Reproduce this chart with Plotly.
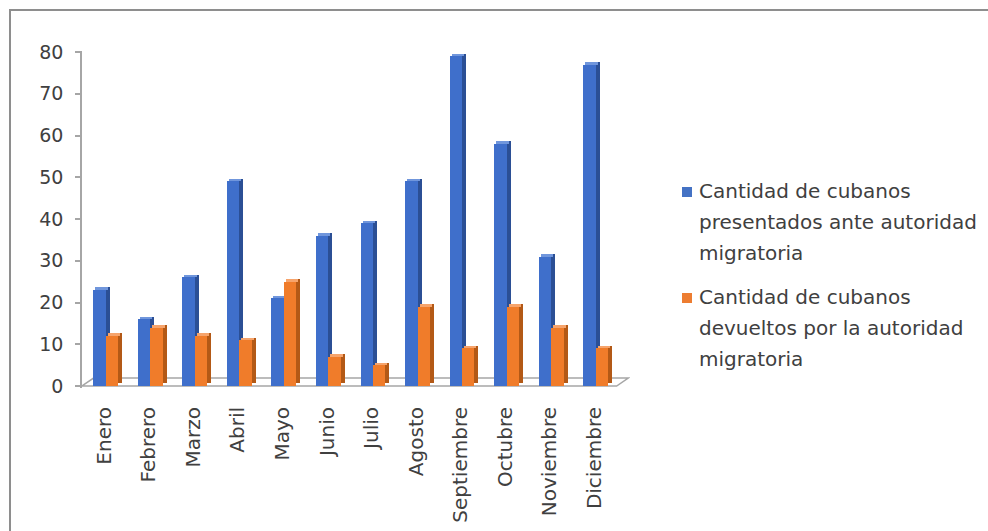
import plotly.graph_objects as go

# ---- data -------------------------------------------------------------
months = ["Enero", "Febrero", "Marzo", "Abril", "Mayo", "Junio", "Julio",
          "Agosto", "Septiembre", "Octubre", "Noviembre", "Diciembre"]
presentados = [23, 16, 26, 49, 21, 36, 39, 49, 79, 58, 31, 77]
devueltos = [12, 14, 12, 11, 25, 7, 5, 19, 9, 19, 14, 9]
y_ticks = [0, 10, 20, 30, 40, 50, 60, 70, 80]
series_names = [
    "Cantidad de cubanos presentados ante autoridad migratoria",
    "Cantidad de cubanos devueltos por la autoridad migratoria",
]
legend_lines = [
    ["Cantidad de cubanos", "presentados ante autoridad", "migratoria"],
    ["Cantidad de cubanos", "devueltos por la autoridad", "migratoria"],
]

# ---- page geometry (pixels) -------------------------------------------
FIG_W, FIG_H = 988, 531
M_L, M_R, M_T, M_B = 82, 358, 51, 143
PW = FIG_W - M_L - M_R
PH = FIG_H - M_T - M_B
X_RANGE = [-0.5, 11.8]
Y_RANGE = [-0.48, 80.24]

# pseudo-3D column geometry (data units)
BAR_W = 0.278
OFFSETS = [-0.247, 0.031]
DX, DY = 0.09, 0.6            # column depth
FLOOR_DX, FLOOR_DY = 0.26, 1.9  # floor depth

FONT = "DejaVu Sans"
TEXT_COLOR = "#404040"
AXIS_COLOR = "#A6A6A6"

PALETTES = [
    dict(front="#3F6FCB", side="#2B4F95", top="#7096DC", key="#4472C4"),
    dict(front="#F07C2A", side="#B35916", top="#F6A46C", key="#ED7D31"),
]

idx = list(range(len(months)))
fig = go.Figure()


def add_columns(values, offset, pal, name):
    """Draw one series as columns with a shaded side and top face."""
    n = len(values)
    fig.add_trace(go.Bar(x=idx, y=values, base=DY, offset=offset + DX,
                         width=BAR_W, marker=dict(color=pal["side"], line_width=0),
                         hoverinfo="skip", showlegend=False))
    fig.add_trace(go.Bar(x=idx, y=[DY] * n, base=values, offset=offset + DX / 2,
                         width=BAR_W, marker=dict(color=pal["top"], line_width=0),
                         hoverinfo="skip", showlegend=False))
    fig.add_trace(go.Bar(x=idx, y=values, base=0, offset=offset, width=BAR_W,
                         marker=dict(color=pal["front"], line_width=0),
                         name=name, showlegend=False))


for vals, off, pal, nm in zip([presentados, devueltos], OFFSETS, PALETTES, series_names):
    add_columns(vals, off, pal, nm)

# ---- floor of the 3D plot area ----------------------------------------
x_lo, x_hi = -0.5, len(months) - 0.5
floor_path = (f"M {x_lo},0 L {x_hi},0 L {x_hi + FLOOR_DX},{FLOOR_DY} "
              f"L {x_lo + FLOOR_DX},{FLOOR_DY} Z")
shapes = [dict(type="path", path=floor_path, xref="x", yref="y", layer="below",
               line=dict(color=AXIS_COLOR, width=1.5))]


def px_x(px):
    return (px - M_L) / PW


def px_y(py):
    return (FIG_H - M_B - py) / PH


# outer chart frame
shapes.append(dict(type="rect", xref="paper", yref="paper",
                   x0=px_x(10), x1=px_x(FIG_W + 20), y0=px_y(FIG_H + 20), y1=px_y(10),
                   line=dict(color="#8E8E8E", width=2), fillcolor="rgba(0,0,0,0)"))

# ---- legend (wrapped entries) -----------------------------------------
annotations = []
LEG_KEY_X, LEG_TEXT_X = 682, 697
LEG_FIRST = [191, 297]
LINE_STEP = 31
for k, (lines, pal) in enumerate(zip(legend_lines, PALETTES)):
    y0 = LEG_FIRST[k]
    shapes.append(dict(type="rect", xref="paper", yref="paper",
                       x0=px_x(LEG_KEY_X), x1=px_x(LEG_KEY_X + 10),
                       y0=px_y(y0 + 6), y1=px_y(y0 - 4),
                       fillcolor=pal["key"], line_width=0))
    for j, txt in enumerate(lines):
        annotations.append(dict(text=txt, xref="paper", yref="paper",
                                x=px_x(LEG_TEXT_X), y=px_y(y0 + j * LINE_STEP),
                                xanchor="left", yanchor="middle", showarrow=False,
                                font=dict(family=FONT, size=20, color=TEXT_COLOR)))

fig.update_layout(
    width=FIG_W, height=FIG_H,
    margin=dict(l=M_L, r=M_R, t=M_T, b=M_B, pad=0, autoexpand=False),
    paper_bgcolor="white", plot_bgcolor="white",
    barmode="overlay", bargap=0,
    showlegend=False,
    font=dict(family=FONT, size=19, color=TEXT_COLOR),
    shapes=shapes, annotations=annotations,
    xaxis=dict(range=X_RANGE, tickvals=idx, ticktext=months, tickangle=-90,
               ticks="", showgrid=False, zeroline=False, showline=False,
               ticklabelstandoff=14, automargin=False,
               tickfont=dict(family=FONT, size=20, color=TEXT_COLOR)),
    xaxis2=dict(range=X_RANGE, overlaying="x", anchor="y", side="bottom",
                tickvals=[i - 0.5 for i in range(len(months) + 1)],
                ticks="outside", ticklen=6, tickwidth=1.5, tickcolor=AXIS_COLOR,
                showticklabels=False, showgrid=False, zeroline=False, showline=False),
    yaxis=dict(range=Y_RANGE, tickvals=y_ticks, ticks="outside", ticklen=5,
               tickwidth=1.5, tickcolor=AXIS_COLOR, showline=True,
               linecolor=AXIS_COLOR, linewidth=1.5, showgrid=False, zeroline=False,
               ticklabelstandoff=8, automargin=False,
               tickfont=dict(family=FONT, size=19, color=TEXT_COLOR)),
)

fig.write_html("out.html")
